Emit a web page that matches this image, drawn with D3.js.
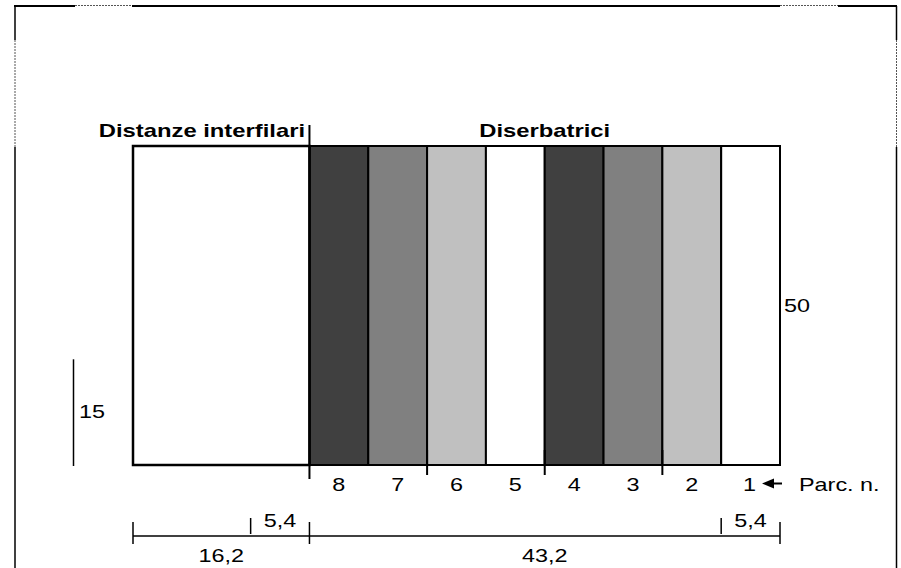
<!DOCTYPE html>
<html>
<head>
<meta charset="utf-8">
<script src="https://cdn.jsdelivr.net/npm/d3@7"></script>
<style>
  html, body { margin: 0; padding: 0; background: #fff; }
  svg { display: block; }
  text { font-family: "Liberation Sans", Arial, sans-serif; fill: #000; }
</style>
</head>
<body>
<svg id="chart" width="901" height="568"></svg>
<script>
// ---- data ----
const parcels = [8, 7, 6, 5, 4, 3, 2, 1];
const parcelWidth = 5.4;
const parcelFills = ["#404040", "#808080", "#c0c0c0", "#ffffff", "#404040", "#808080", "#c0c0c0", "#ffffff"];
const interfilareWidth = 16.2;
const plotHeight = 50;
const refHeight = 15;
const segmentWidths = [16.2, 43.2];
const segmentLabels = ["16,2", "43,2"];
const subLabel = "5,4";
const headings = ["Distanze interfilari", "Diserbatrici"];
const parcelAxisLabel = "Parc. n.";

// ---- scales ----
const totalWidth = d3.sum(segmentWidths);
const x = d3.scaleLinear().domain([0, totalWidth]).range([133, 780]);
const y = d3.scaleLinear().domain([0, plotHeight]).range([465, 146]);

const svg = d3.select("#chart");
const SX = 1.3; // horizontal stretch of the lettering

function label(g, str, px, py, opts = {}) {
  const t = g.append("text")
    .attr("transform", `translate(${px},${py}) scale(${SX},1)`)
    .attr("text-anchor", opts.anchor || "middle")
    .attr("font-size", opts.size || 18)
    .attr("font-weight", opts.bold ? "bold" : "normal")
    .text(str);
  if (opts.dy) t.attr("dy", opts.dy);
  return t;
}

// ---- frame ----
const frame = svg.append("g");
function hl(x1, x2, yy, dotted) {
  frame.append("line").attr("x1", x1).attr("x2", x2).attr("y1", yy).attr("y2", yy)
    .attr("stroke", dotted ? "#555" : "#000").attr("stroke-width", dotted ? 1 : 2)
    .attr("stroke-dasharray", dotted ? "2,1" : null);
}
function vl(xx, y1, y2, dotted) {
  frame.append("line").attr("x1", xx).attr("x2", xx).attr("y1", y1).attr("y2", y2)
    .attr("stroke", dotted ? "#555" : "#000").attr("stroke-width", dotted ? 1 : 1.5)
    .attr("stroke-dasharray", dotted ? "2,1" : null);
}
hl(14, 75, 6); hl(75, 132, 5.5, true); hl(132, 780, 6); hl(780, 838, 5.5, true); hl(838, 897, 6);
vl(15, 6, 40); vl(15, 40, 147, true); vl(15, 147, 568);
vl(896.5, 6, 40); vl(896.5, 40, 147, true); vl(896.5, 147, 568);

// ---- plot ----
const g = svg.append("g");

// parcels
const x0 = interfilareWidth;
g.selectAll("rect.parcel").data(parcels).enter().append("rect")
  .attr("class", "parcel")
  .attr("x", (d, i) => x(x0 + i * parcelWidth))
  .attr("width", x(parcelWidth) - x(0))
  .attr("y", y(plotHeight))
  .attr("height", y(0) - y(plotHeight))
  .attr("fill", (d, i) => parcelFills[i])
  .attr("stroke", "#000").attr("stroke-width", 2);

// interfilare box
g.append("rect")
  .attr("x", x(0)).attr("width", x(interfilareWidth) - x(0))
  .attr("y", y(plotHeight)).attr("height", y(0) - y(plotHeight))
  .attr("fill", "#fff").attr("stroke", "#000").attr("stroke-width", 2.5);

// separator line between the two groups (extended above & below)
g.append("line")
  .attr("x1", x(interfilareWidth)).attr("x2", x(interfilareWidth))
  .attr("y1", y(plotHeight) - 21).attr("y2", y(0) + 14)
  .attr("stroke", "#000").attr("stroke-width", 2);

// bottom group ticks
[2, 4, 6].forEach(k => {
  g.append("line")
    .attr("x1", x(x0 + k * parcelWidth)).attr("x2", x(x0 + k * parcelWidth))
    .attr("y1", y(0) - 15).attr("y2", y(0) + 10)
    .attr("stroke", "#000").attr("stroke-width", 2);
});

// headings
label(g, headings[0], 305, 137, { anchor: "end", bold: true, size: 18.3 });
label(g, headings[1], x(x0 + 4 * parcelWidth), 137, { bold: true, size: 18.3 });

// parcel numbers
parcels.forEach((p, i) => {
  label(g, String(p), x(x0 + (i + 0.5) * parcelWidth) - (p === 1 ? 1 : 0), 491);
});

// arrow + axis label
const ax = x(totalWidth) + 2;
g.append("line").attr("x1", ax - 9).attr("x2", ax).attr("y1", 483.5).attr("y2", 483.5)
  .attr("stroke", "#000").attr("stroke-width", 2);
g.append("path").attr("d", `M${ax - 20},483.5 L${ax - 8},478.5 L${ax - 8},488.5 Z`).attr("fill", "#000");
label(g, parcelAxisLabel, 799, 491, { anchor: "start" });

// height annotation 50
label(g, String(plotHeight), x(totalWidth) + 4, (y(0) + y(plotHeight)) / 2, { anchor: "start", dy: "0.35em" });

// reference height 15
g.append("line").attr("x1", 73.5).attr("x2", 73.5)
  .attr("y1", y(refHeight) - 10).attr("y2", y(0) + 1)
  .attr("stroke", "#000").attr("stroke-width", 1.5);
label(g, String(refHeight), 79, (y(refHeight) - 10 + y(0)) / 2, { anchor: "start", dy: "0.35em" });

// dimension line
const dimY = 536;
g.append("line").attr("x1", x(0)).attr("x2", x(totalWidth)).attr("y1", dimY).attr("y2", dimY)
  .attr("stroke", "#000").attr("stroke-width", 1.5);
const bounds = [0, segmentWidths[0], totalWidth];
bounds.forEach(b => {
  g.append("line").attr("x1", x(b)).attr("x2", x(b)).attr("y1", dimY - 14).attr("y2", dimY + 8)
    .attr("stroke", "#000").attr("stroke-width", 1.5);
});
// 5,4 sub ticks
const subTicks = [segmentWidths[0] - parcelWidth, totalWidth - parcelWidth];
subTicks.forEach(s => {
  g.append("line").attr("x1", x(s)).attr("x2", x(s)).attr("y1", dimY - 18).attr("y2", dimY - 2)
    .attr("stroke", "#000").attr("stroke-width", 1.5);
  label(g, subLabel, x(s + parcelWidth / 2), 527);
});
segmentWidths.forEach((w, i) => {
  const start = d3.sum(segmentWidths.slice(0, i));
  label(g, segmentLabels[i], x(start + w / 2), 562);
});
</script>
</body>
</html>
